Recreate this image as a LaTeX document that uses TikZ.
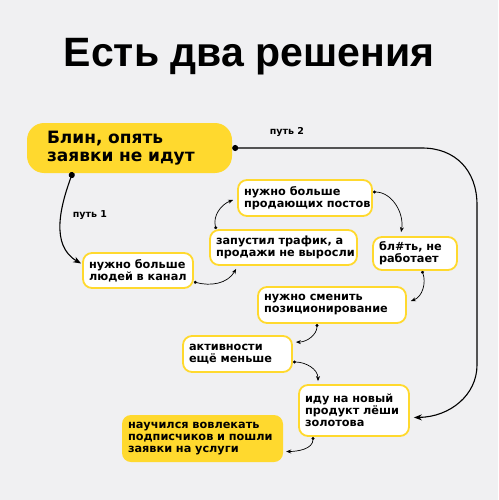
\documentclass[tikz,border=0pt]{standalone}
\usepackage{fontspec}
\setmainfont{Liberation Sans}
\newfontfamily\boxfont{DejaVu Sans}
\usetikzlibrary{arrows.meta}
\definecolor{fon}{HTML}{F0F0F2}
\definecolor{zhelt}{HTML}{FFD92E}
\tikzset{>=stealth,
  ybox/.style={fill=zhelt, rounded corners=9pt, inner xsep=6pt, inner ysep=2pt, align=left,
    font=\boxfont\bfseries\fontsize{11.3}{12}\selectfont},
  wbox/.style={ybox, fill=white, draw=zhelt, line width=1.8pt},
  hod/.style={{Circle[length=3pt]}-{Stealth[length=5pt,width=4pt]}, line width=0.7pt},
  put/.style={{Circle[length=6pt]}-{Stealth[length=8pt,width=6pt]}, line width=1.1pt},
  metka/.style={font=\boxfont\bfseries\fontsize{9.5}{10}\selectfont}}

\begin{document}
\begin{tikzpicture}[x=1pt, y=-1pt]
  \fill[fon] (0,0) rectangle (498,500);
  \useasboundingbox (0,0) rectangle (498,500);
  \node[font=\bfseries\fontsize{41}{41}\selectfont, anchor=base] (zag) at (249,67) {Есть два решения};
  % boxes
  \node[ybox, rounded corners=17pt, inner xsep=20pt, minimum width=205pt, minimum height=50pt, text width=165pt,
    font=\boxfont\bfseries\fontsize{17}{18.5}\selectfont] (blin) at (129.5,148) {\mbox{Блин, опять}\\\mbox{заявки не идут}};
  \node[wbox, minimum width=110pt, minimum height=35pt, text width=98pt] (ludi) at (138,270.5)
    {\mbox{нужно больше}\\\mbox{людей в канал}};
  \node[wbox, minimum width=147pt, minimum height=35pt, text width=135pt] (trafik) at (283.5,247.5)
    {\mbox{запустил трафик, а}\\\mbox{продажи не выросли}};
  \node[wbox, minimum width=134pt, minimum height=36pt, text width=122pt] (posty) at (305,198)
    {\mbox{нужно больше}\\\mbox{продающих постов}};
  \node[wbox, minimum width=84pt, minimum height=33pt, text width=72pt] (blt) at (415,253.5)
    {\mbox{бл\#ть, не}\\\mbox{работает}};
  \node[wbox, minimum width=148pt, minimum height=36pt, text width=136pt] (pozic) at (332,305)
    {\mbox{нужно сменить}\\\mbox{позиционирование}};
  \node[wbox, minimum width=109pt, minimum height=36pt, text width=97pt] (aktiv) at (237.5,354)
    {\mbox{активности}\\\mbox{ещё меньше}};
  \node[wbox, minimum width=110pt, minimum height=51pt, text width=98pt] (idu) at (354,410.5)
    {\mbox{иду на новый}\\\mbox{продукт лёши}\\\mbox{золотова}};
  \node[ybox, minimum width=161pt, minimum height=47pt, text width=149pt] (nauch) at (202.5,438.5)
    {\mbox{научился вовлекать}\\\mbox{подписчиков и пошли}\\\mbox{заявки на услуги}};
  % labels
  \node[metka] (put1) at (90,215) {путь 1};
  \node[metka] (put2) at (287,132) {путь 2};
  % path 1
  \draw[put] ([xshift=46pt,yshift=1pt]blin.south west) to[out=250,in=150] ([xshift=-1pt,yshift=7pt]ludi.west);
  % steps
  \draw[hod] ([yshift=7pt]ludi.south east) to[out=-15,in=-120] ([xshift=27pt,yshift=-3pt]trafik.south west);
  \draw[hod] ([xshift=7pt]trafik.north west) to[out=105,in=200] ([xshift=-4pt,yshift=-2pt]posty.west);
  \draw[hod] ([yshift=6pt]posty.east) to[out=0,in=80] ([xshift=29pt,yshift=4pt]blt.north west);
  \draw[hod] ([xshift=7pt]blt.south) to[out=-70,in=20] ([xshift=4pt,yshift=4pt]pozic.east);
  \draw[hod] ([xshift=-15pt]pozic.south) to[out=-90,in=0] ([xshift=3pt,yshift=-7pt]aktiv.north east);
  \draw[hod] ([yshift=-8pt]aktiv.east) to[out=0,in=90] ([xshift=-36pt,yshift=3pt]idu.north);
  \draw[hod] ([xshift=-41pt]idu.south) to[out=-90,in=0] ([xshift=3pt,yshift=-13pt]nauch.east);
  % path 2
  \draw[put] (blin.east) -- (422,148) .. controls (455,148) and (477,170) .. (477,205) -- (477,365)
    .. controls (477,395) and (450,417) .. ([xshift=4pt,yshift=-7pt]idu.east);
\end{tikzpicture}
\end{document}
